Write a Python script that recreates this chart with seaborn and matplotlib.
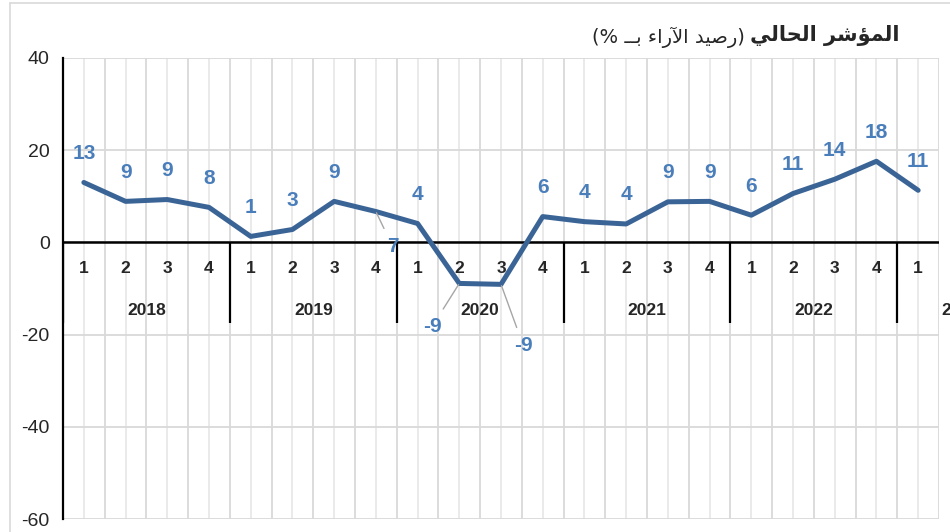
import numpy as np
import pandas as pd
import seaborn as sns
import matplotlib.pyplot as plt
from matplotlib.lines import Line2D

# Data: quarterly balance of opinions (%)
years = ["2018", "2019", "2020", "2021", "2022", "2023"]
quarters = ["1", "2", "3", "4"] * 5 + ["1"]
values = [13.0, 8.9, 9.3, 7.6,
          1.3, 2.8, 8.9, 6.7,
          4.1, -8.9, -9.1, 5.6,
          4.5, 4.0, 8.8, 8.9,
          5.9, 10.6, 13.7, 17.6,
          11.3]
labels = ["13", "9", "9", "8", "1", "3", "9", "7", "4", "-9", "-9", "6",
          "4", "4", "9", "9", "6", "11", "14", "18", "11"]

# Title (visual order, Arabic presentation forms) : "المؤشر الحالي" + "(رصيد الآراء بـ %)"
title_bold = "\ufef2\ufedf\ufe8e\ufea4\ufedf\ufe8d \ufeae\ufeb7\ufe86\ufee4\ufedf\ufe8d"
title_reg = "(% \u0640\u0640\ufe91 \ufe80\ufe8d\ufead\ufef5\ufe8d \ufeaa\ufef4\ufebb\ufead)"

df = pd.DataFrame({"pos": np.arange(len(values)), "value": values})

sns.set_style("white")
plt.rcParams["font.family"] = ["Liberation Sans", "DejaVu Sans"]
plt.rcParams["axes.unicode_minus"] = False

fig = plt.figure(figsize=(9.5, 5.32), dpi=100)
ax = fig.add_axes([63 / 950, 1 - 519 / 532, 876 / 950, 461 / 532])

line_col = "#3b6496"
lab_col = "#4a7ebb"
grid_col = "#d9d9d9"

n = len(values)
ax.set_xlim(-0.5, n - 0.5)
ax.set_ylim(-60, 40)

# gridlines
for k in range(n + 1):
    ax.axvline(k - 0.5, color=grid_col, lw=1.3, zorder=0)
for k in range(n):
    ax.axvline(k, color="#e6e6e6", lw=1.2, zorder=0)
for yv in range(-60, 41, 20):
    ax.axhline(yv, color=grid_col, lw=1.3, zorder=0)

sns.lineplot(data=df, x="pos", y="value", ax=ax, color=line_col, linewidth=3.6,
             solid_capstyle="round", solid_joinstyle="round", zorder=4)

# category axis at y=0
ax.axhline(0, color="black", lw=1.8, zorder=3)
year_bounds = [-0.5, 3.5, 7.5, 11.5, 15.5, 19.5]
ax.vlines(year_bounds, -17.4, 0, color="black", lw=1.6, zorder=3)
for k, q in enumerate(quarters):
    ax.text(k, -5.6, q, ha="center", va="center", fontsize=12.5, fontweight="bold")
for i, yr in enumerate(years[:-1]):
    ax.text(year_bounds[i] + 2, -14.8, yr, ha="center", va="center",
            fontsize=12.5, fontweight="bold")
ax.text(20.55, -14.8, years[-1], ha="left", va="center", fontsize=12.5,
        fontweight="bold", clip_on=False)

# data labels
special = {7: (12, -25), 9: (-19.5, -31), 10: (16, -44)}
for k, (v, lab) in enumerate(zip(values, labels)):
    if k in special:
        ax.annotate(lab, (k, v), xytext=special[k], textcoords="offset points",
                    ha="center", va="center", fontsize=15, fontweight="bold",
                    color=lab_col, zorder=5,
                    arrowprops=dict(arrowstyle="-", color="#a6a6a6", lw=1,
                                    shrinkA=4, shrinkB=1))
    else:
        ax.annotate(lab, (k, v), xytext=(0, 21), textcoords="offset points",
                    ha="center", va="center", fontsize=15, fontweight="bold",
                    color=lab_col, zorder=5)

ax.set_yticks(range(-60, 41, 20))
ax.set_xticks([])
ax.tick_params(axis="y", length=0, pad=9.5, labelsize=14)
ax.set_xlabel("")
ax.set_ylabel("")
for s in ["top", "right", "bottom"]:
    ax.spines[s].set_visible(False)
ax.spines["left"].set_color("black")
ax.spines["left"].set_linewidth(1.6)

# title
fig.text(900 / 950, 1 - 35 / 532, title_bold, ha="right", va="center",
         fontsize=15, fontweight="bold", family=["DejaVu Sans"])
fig.text(745 / 950, 1 - 37 / 532, title_reg, ha="right", va="center",
         fontsize=14, family=["DejaVu Sans"])

# outer chart border
fig.add_artist(Line2D([10 / 950, 10 / 950], [0, 1 - 3 / 532], color=grid_col, lw=1.2))
fig.add_artist(Line2D([10 / 950, 1], [1 - 3 / 532, 1 - 3 / 532], color=grid_col, lw=1.2))

fig.savefig("out.png", dpi=100)
